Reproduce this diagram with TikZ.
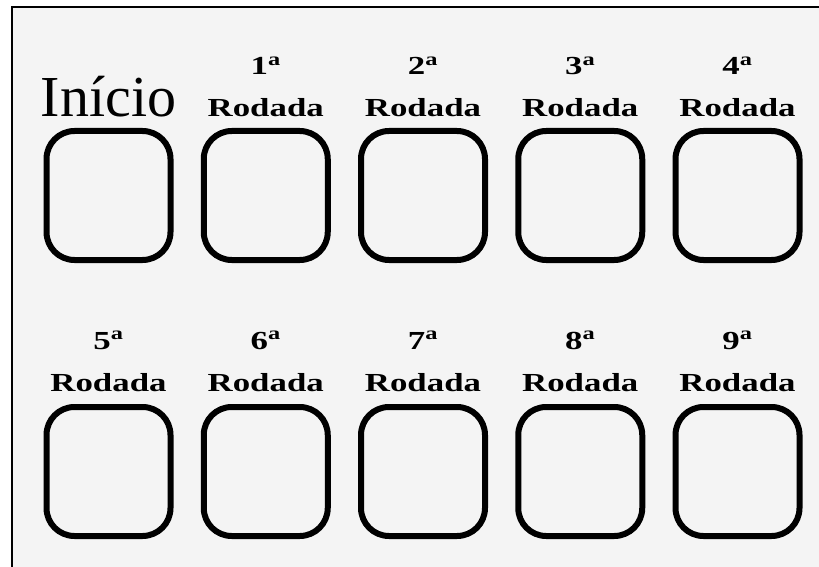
\documentclass[tikz,border=0pt]{standalone}
\usepackage{fontspec}
\setmainfont{Liberation Serif}
\begin{document}
\begin{tikzpicture}[x=1pt,y=-1pt,
  slot/.style={draw=black,line width=6pt,rounded corners=28pt,fill=none,
    minimum width=124pt,minimum height=129pt,inner sep=0pt},
  roundlbl/.style={anchor=base,inner sep=0pt,font=\fontsize{26}{30}\selectfont\bfseries},
  startlbl/.style={anchor=base,inner sep=0pt,font=\fontsize{58}{64}\selectfont}]
  % sheet and its frame
  \useasboundingbox (0,0) rectangle (819,567);
  \fill[white] (0,0) rectangle (819,567);
  \fill[gray!9] (12,7) rectangle (819,567);
  \draw[line width=2pt] (12,567) -- (12,7) -- (819,7);
  % first row
  \node[startlbl] (tstart) at (108.5,117) {Início};
  \node[slot] (bstart) at (108.5,195.5) {};
  \foreach \i/\x in {1/265.75,2/423,3/580.25,4/737.5}{
    \node[roundlbl] (n\i) at (\x,75) {\scalebox{1.34}[1]{\i\textsuperscript{a}}};
    \node[roundlbl] (t\i) at (\x,117) {\scalebox{1.34}[1]{Rodada}};
    \node[slot] (b\i) at (\x,195.5) {};
  }
  % second row
  \foreach \i/\x in {5/108.5,6/265.75,7/423,8/580.25,9/737.5}{
    \node[roundlbl] (n\i) at (\x,349) {\scalebox{1.34}[1]{\i\textsuperscript{a}}};
    \node[roundlbl] (t\i) at (\x,391) {\scalebox{1.34}[1]{Rodada}};
    \node[slot] (b\i) at (\x,471.5) {};
  }
\end{tikzpicture}
\end{document}
